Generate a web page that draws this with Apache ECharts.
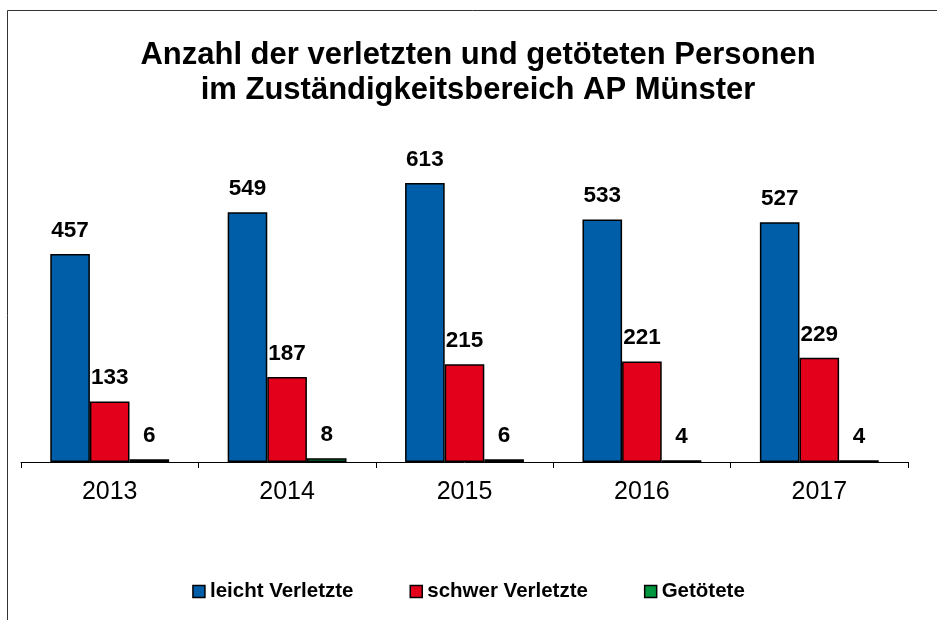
<!DOCTYPE html>
<html>
<head>
<meta charset="utf-8">
<script src="https://cdn.jsdelivr.net/npm/echarts@6/dist/echarts.min.js"></script>
<style>
  html, body { margin: 0; padding: 0; background: #fff; }
  #chart { width: 937px; height: 620px; }
</style>
</head>
<body>
<div id="chart"></div>
<script>
const years = ['2013', '2014', '2015', '2016', '2017'];
const leichtVerletzte = [457, 549, 613, 533, 527];
const schwerVerletzte = [133, 187, 215, 221, 229];
const getoetete = [6, 8, 6, 4, 4];

const seriesNames = ['leicht Verletzte', 'schwer Verletzte', 'Getötete'];
const colors = ['#005EA8', '#E2001A', '#00963F'];
const font = 'Arial, "Liberation Sans", sans-serif';

const chart = echarts.init(document.getElementById('chart'));

function barSeries(name, data, color) {
  return {
    name: name,
    type: 'bar',
    data: data,
    barGap: 0,
    barCategoryGap: '33%',
    itemStyle: { color: color, borderColor: '#000', borderWidth: 1.5 },
    label: {
      show: true,
      position: 'top',
      distance: 12,
      color: '#000',
      fontSize: 22.5,
      fontWeight: 'bold',
      fontFamily: font
    },
    animation: false
  };
}

chart.setOption({
  backgroundColor: '#fff',
  textStyle: { fontFamily: font },
  title: {
    text: 'Anzahl der verletzten und getöteten Personen\nim Zuständigkeitsbereich AP Münster',
    left: 478,
    top: 38,
    textAlign: 'center',
    padding: 0,
    textStyle: {
      fontSize: 31,
      fontWeight: 'bold',
      lineHeight: 35,
      color: '#000',
      fontFamily: font
    }
  },
  legend: {
    data: seriesNames,
    left: 'center',
    top: 576,
    itemWidth: 12,
    itemHeight: 12,
    itemGap: 56,
    icon: 'rect',
    itemStyle: { borderColor: '#000', borderWidth: 1.5 },
    textStyle: { fontSize: 20.5, fontWeight: 'bold', color: '#000', fontFamily: font }
  },
  grid: { left: 21, right: 29, top: 143.5, bottom: 158, containLabel: false },
  xAxis: {
    type: 'category',
    data: years,
    axisLine: { lineStyle: { color: '#000', width: 1 } },
    axisTick: { show: true, length: 6, lineStyle: { color: '#000' } },
    axisLabel: { fontSize: 25, color: '#000', margin: 18, fontFamily: font }
  },
  yAxis: {
    type: 'value',
    min: 0,
    max: 700,
    show: false,
    splitLine: { show: false }
  },
  series: [
    barSeries(seriesNames[0], leichtVerletzte, colors[0]),
    barSeries(seriesNames[1], schwerVerletzte, colors[1]),
    barSeries(seriesNames[2], getoetete, colors[2])
  ],
  graphic: [
    {
      type: 'polyline',
      shape: { points: [[7.5, 640], [7.5, 10.5], [960, 10.5]] },
      style: { stroke: '#333', lineWidth: 1, fill: null },
      silent: true
    }
  ]
});
</script>
</body>
</html>
